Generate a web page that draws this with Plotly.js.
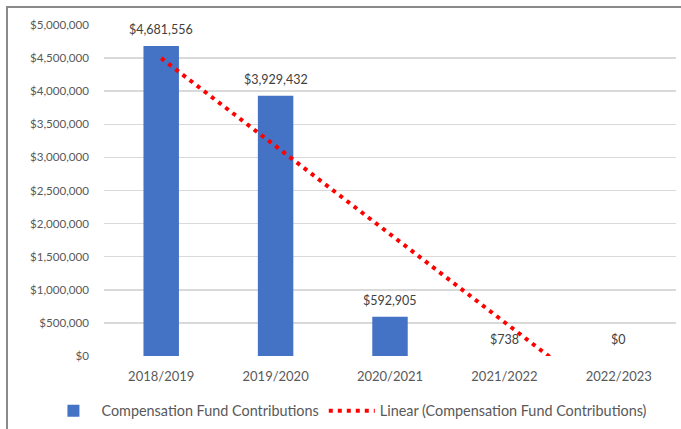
<!DOCTYPE html>
<html>
<head>
<meta charset="utf-8">
<script src="https://cdn.plot.ly/plotly-3.0.1.min.js"></script>
<style>
  html, body { margin: 0; padding: 0; background: #fff; }
  #wrap { position: relative; width: 681px; height: 429px; }
  #chart { width: 681px; height: 429px; }
  #frame { position: absolute; left: 6px; top: 6px; right: 0; bottom: 0;
           border-top: 2px solid #8a8a8a; border-left: 2px solid #8a8a8a; pointer-events: none; }
</style>
</head>
<body>
<div id="wrap">
  <div id="chart"></div>
  <div id="frame"></div>
</div>
<script>
const categories = ["2018/2019", "2019/2020", "2020/2021", "2021/2022", "2022/2023"];
const contributions = [4681556, 3929432, 592905, 738, 0];
const yTickVals = [0, 500000, 1000000, 1500000, 2000000, 2500000, 3000000, 3500000, 4000000, 4500000, 5000000];
const yTickText = ["$0", "$500,000", "$1,000,000", "$1,500,000", "$2,000,000", "$2,500,000",
                   "$3,000,000", "$3,500,000", "$4,000,000", "$4,500,000", "$5,000,000"];
const seriesName = "Compensation Fund Contributions";
const trendName = "Linear (Compensation Fund Contributions)";

// Least-squares linear trend over category index (as Excel's linear trendline)
const n = contributions.length;
const xs = contributions.map((_, i) => i + 1);
const mx = xs.reduce((a, b) => a + b, 0) / n;
const my = contributions.reduce((a, b) => a + b, 0) / n;
let sxy = 0, sxx = 0;
for (let i = 0; i < n; i++) { sxy += (xs[i] - mx) * (contributions[i] - my); sxx += (xs[i] - mx) ** 2; }
const slope = sxy / sxx;
const intercept = my - slope * mx;
const trend = xs.map(x => intercept + slope * x);

const fmt = v => "$" + v.toLocaleString("en-US");
const FONT = "Lato, 'Open Sans', sans-serif";

const bars = {
  type: "bar",
  x: categories,
  y: contributions,
  name: seriesName,
  marker: { color: "#4472C4" },
  width: 0.31,
  hoverinfo: "x+y"
};

const trendLine = {
  type: "scatter",
  mode: "lines",
  x: categories,
  y: trend,
  name: trendName,
  line: { color: "#FF0000", width: 4, dash: "4px,5px" },
  hoverinfo: "skip"
};

const labels = categories.map((c, i) => ({
  x: c,
  y: contributions[i],
  xref: "x",
  yref: "y",
  text: fmt(contributions[i]),
  showarrow: false,
  yanchor: "middle",
  yshift: 16.5,
  font: { family: FONT, size: 12.5, color: "#404040" }
}));

const layout = {
  width: 681,
  height: 429,
  margin: { l: 104, r: 5, t: 25, b: 73, autoexpand: false },
  paper_bgcolor: "#ffffff",
  plot_bgcolor: "#ffffff",
  font: { family: FONT, size: 12, color: "#595959" },
  showlegend: true,
  legend: {
    orientation: "h",
    x: -0.1024, xanchor: "left",
    y: -0.166, yanchor: "middle",
    font: { family: FONT, size: 14.4, color: "#595959" },
    itemwidth: 46,
    traceorder: "normal"
  },
  annotations: labels,
  xaxis: {
    type: "category",
    showgrid: false,
    showline: false,
    zeroline: false,
    ticks: "",
    ticklabelstandoff: 11,
    tickfont: { family: FONT, size: 13, color: "#595959" }
  },
  yaxis: {
    range: [0, 5000000],
    tickvals: yTickVals,
    ticktext: yTickText,
    showgrid: true,
    gridcolor: "#d9d9d9",
    gridwidth: 1.5,
    zeroline: false,
    showline: false,
    ticks: "",
    ticklabelstandoff: 14,
    tickfont: { family: FONT, size: 11.6, color: "#595959" }
  }
};

Plotly.newPlot("chart", [bars, trendLine], layout, { displayModeBar: false, staticPlot: true });
</script>
</body>
</html>
